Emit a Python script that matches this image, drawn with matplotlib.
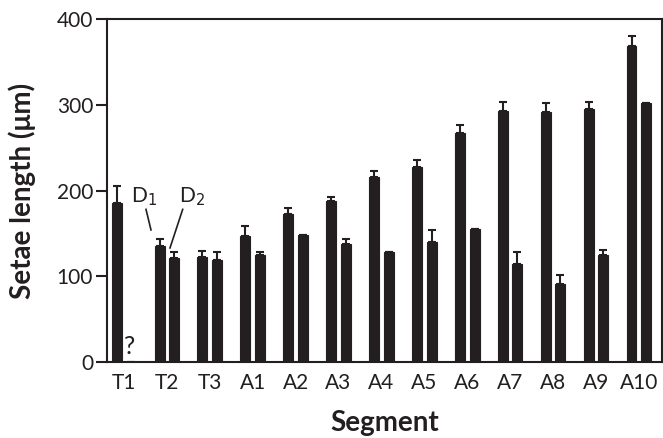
import matplotlib.pyplot as plt
import numpy as np

plt.rcParams['font.family'] = ['Lato', 'DejaVu Sans']

segments = ["T1", "T2", "T3", "A1", "A2", "A3", "A4", "A5", "A6", "A7", "A8", "A9", "A10"]
d1_length = [185, 135, 122, 147, 173, 188, 216, 227, 267, 293, 292, 295, 369]
d1_err = [20, 8, 8, 12, 7, 4, 7, 9, 9, 10, 10, 8, 11]
d2_length = [0, 121, 119, 125, 148, 138, 128, 140, 155, 114, 91, 125, 302]
d2_err = [0, 7, 9, 3, 0, 5, 0, 14, 0, 14, 11, 6, 0]

ink = "#231f20"

fig = plt.figure(figsize=(6.63, 4.38), dpi=100)
ax = fig.add_axes([0.1614, 0.1735, 0.8371, 0.7831])

x = np.arange(len(segments))
w = 0.233
off = 0.171

ax.bar(x - off, d1_length, width=w, color=ink, edgecolor=ink, linewidth=0.8,
       yerr=[np.zeros(len(x)), d1_err], error_kw=dict(ecolor=ink, elinewidth=1.5, capsize=3, capthick=1.5))
ax.bar(x + off, d2_length, width=w, color=ink, edgecolor=ink, linewidth=0.8,
       yerr=[np.zeros(len(x)), d2_err], error_kw=dict(ecolor=ink, elinewidth=1.5, capsize=3, capthick=1.5))

# annotations for the two setae
ax.text(0.466, 193, "D$_1$", ha="center", va="center", fontsize=15, color=ink)
ax.plot([0.513, 0.629], [178, 154], color=ink, lw=1.2)
ax.text(1.585, 193, "D$_2$", ha="center", va="center", fontsize=15, color=ink)
ax.plot([1.368, 1.072], [178, 133], color=ink, lw=1.2)
ax.text(0.128, 18, "?", ha="center", va="center", fontsize=18, color=ink)

ax.set_xlim(-0.396, 12.54)
ax.set_ylim(0, 400)
ax.set_yticks([0, 100, 200, 300, 400])
ax.set_xticks(x)
ax.set_xticklabels(segments)
ax.tick_params(axis="x", length=0, pad=8, labelsize=15, colors=ink)
ax.tick_params(axis="y", length=8, width=1.5, pad=2, labelsize=15, colors=ink)
for s in ax.spines.values():
    s.set_linewidth(1.5)
    s.set_color(ink)

ax.set_ylabel("Setae length (μm)", fontsize=20, fontweight="bold", color=ink)
ax.yaxis.set_label_coords(-0.128, 0.5)
ax.set_xlabel("Segment", fontsize=20, fontweight="bold", color=ink, va="top")
ax.xaxis.set_label_coords(0.5, -0.14)

fig.savefig("out.png", dpi=100)
